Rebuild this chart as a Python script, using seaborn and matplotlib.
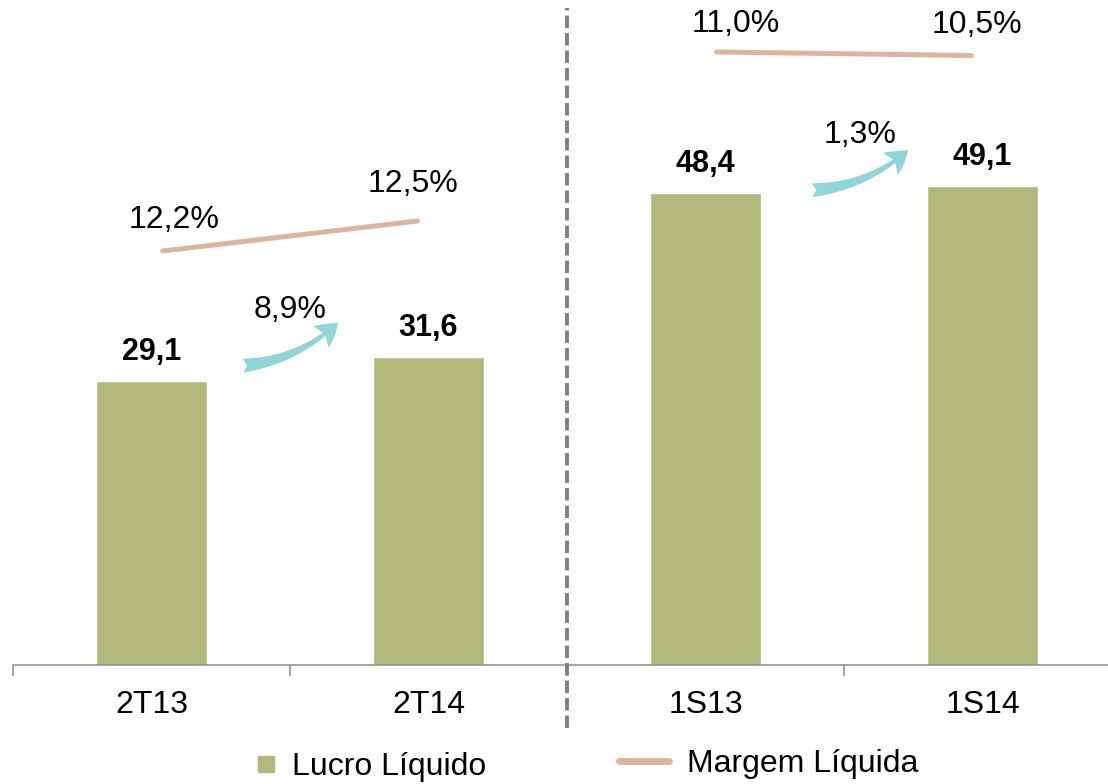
import matplotlib
matplotlib.use("Agg")
import matplotlib.pyplot as plt
from matplotlib.lines import Line2D
import seaborn as sns
import pandas as pd

# ---- data ----
categories = ["2T13", "2T14", "1S13", "1S14"]
lucro = [29.1, 31.6, 48.4, 49.1]
margem_left = [12.2, 12.5]     # 2T13, 2T14
margem_right = [11.0, 10.5]    # 1S13, 1S14
growth_labels = ["8,9%", "1,3%"]

BAR = "#B2B77C"
LINE = "#DBB5A0"
ARROW = "#93D4D7"
GRAY = "#8C8C8C"
FS = 23
FSB = 22

sns.set_style("white")
plt.rcParams["font.family"] = ["Liberation Sans", "DejaVu Sans"]
plt.rcParams["text.color"] = "black"
plt.rcParams["xtick.color"] = "black"

def fmt(v, pct=False):
    s = f"{v:.1f}".replace(".", ",")
    return s + "%" if pct else s

fig = plt.figure(figsize=(11.08, 7.84), dpi=100)
ax = fig.add_axes([13 / 1108, 119 / 784, 1108 / 1108, 663 / 784])

df = pd.DataFrame({"cat": categories, "lucro": lucro})
sns.barplot(data=df, x="cat", y="lucro", order=categories, color=BAR,
            saturation=1, width=0.4, ax=ax)

pos = list(range(len(categories)))
for p, v in zip(pos, lucro):
    ax.annotate(fmt(v), xy=(p, v), xytext=(0, 21), textcoords="offset points",
                ha="center", va="center", fontsize=FSB, fontweight="bold",
                color="black")

# margin lines on separate secondary scales
inset = [0.04, -0.04]
ax2 = ax.twinx()
ax3 = ax.twinx()
for axx, vals, px, lim, offs in [
    (ax2, margem_left, pos[0:2], (8.06, 14.69), [(8, 22), (-3, 27)]),
    (ax3, margem_right, pos[2:4], (-76.57, 18.14), [(14, 20), (4, 22)]),
]:
    xs = [p + d for p, d in zip(px, inset)]
    sns.lineplot(x=xs, y=vals, ax=axx, color=LINE, linewidth=3.6,
                 solid_capstyle="round", legend=False)
    axx.set_ylim(*lim)
    for x, v, o in zip(xs, vals, offs):
        axx.annotate(fmt(v, True), xy=(x, v), xytext=o, textcoords="offset points",
                     ha="center", va="center", fontsize=FS, color="black")
    axx.set_yticks([])
    axx.set_ylabel("")
    for s in axx.spines.values():
        s.set_visible(False)

# growth arrows
arrows = [((0.33, 30.7), (0.673, 35.1), (0.5, 36.4)),
          ((2.385, 48.7), (2.731, 52.8), (2.558, 54.4))]
for (tail, head, lab), txt in zip(arrows, growth_labels):
    ax.annotate("", xy=head, xytext=tail,
                arrowprops=dict(arrowstyle="fancy,head_length=0.8,head_width=0.95,tail_width=0.5",
                                connectionstyle="arc3,rad=0.17", color=ARROW,
                                shrinkA=0, shrinkB=0, mutation_scale=20, lw=0))
    ax.text(lab[0], lab[1], txt, ha="center", va="center", fontsize=FS, color="black")

ax.set_xlim(-0.5, 3.5)
ax.set_ylim(0, 68)
ax.set_yticks([])
ax.set_ylabel("")
ax.set_xlabel("")
ax.set_xticks([-0.5, 0.5, 1.5, 2.5, 3.5])
ax.set_xticklabels([])
ax.set_xticks(pos, categories, minor=True)
ax.tick_params(axis="x", which="major", length=8, width=1.1, color=GRAY, direction="out", bottom=True)
ax.tick_params(axis="x", which="minor", length=0, pad=18, labelsize=FS, labelcolor="black")
for k in ["top", "left", "right"]:
    ax.spines[k].set_visible(False)
ax.spines["bottom"].set_color(GRAY)
ax.spines["bottom"].set_linewidth(1.1)

# dashed divider
ax.axvline(1.5, ymin=(665 - 728) / 663, ymax=(665 - 8) / 663, color="#808080",
           linewidth=2.8, dashes=(3.2, 1.3), clip_on=False, zorder=5)

# legends
h1 = Line2D([], [], marker="s", linestyle="none", markersize=11.5,
            markerfacecolor=BAR, markeredgecolor=BAR)
h2 = Line2D([], [], color=LINE, linewidth=5, solid_capstyle="round")
fig.legend([h1], ["Lucro Líquido"], loc="center left", frameon=False,
           bbox_to_anchor=(258 / 1108, 1 - 767 / 784), fontsize=FS,
           handlelength=0.5, handletextpad=0.55, borderpad=0, borderaxespad=0)
fig.legend([h2], ["Margem Líquida"], loc="center left", frameon=False,
           bbox_to_anchor=(619 / 1108, 1 - 764 / 784), fontsize=FS,
           handlelength=1.57, handletextpad=0.55, borderpad=0, borderaxespad=0)

fig.savefig("out.png", dpi=100)
